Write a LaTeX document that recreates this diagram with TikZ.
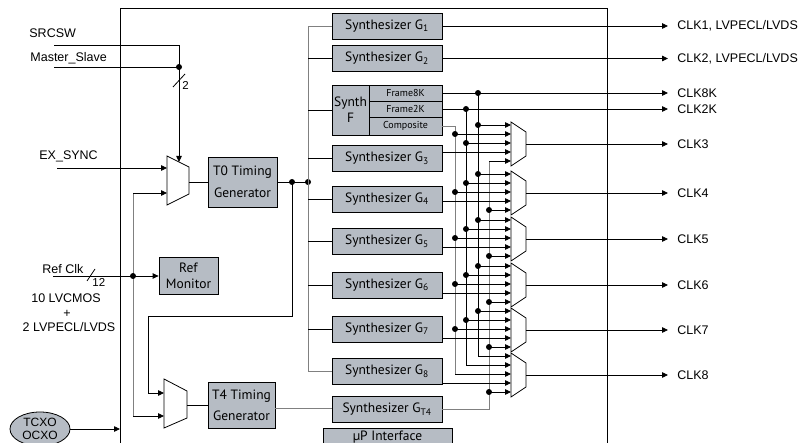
\documentclass[tikz,border=0pt]{standalone}
\usepackage{fontspec}
\setmainfont{Liberation Sans}
\newfontfamily\blockfont{PT Sans}
\usetikzlibrary{arrows.meta,shapes.geometric}
\definecolor{blockgray}{RGB}{182,188,196}

\begin{document}
\begin{tikzpicture}[x=1pt, y=-1pt, line width=0.8pt,
  block/.style={draw, fill=blockgray, inner sep=0pt, minimum width=110pt, minimum height=26pt, font=\blockfont\fontsize{13.5}{16}\selectfont},
  small/.style={draw, fill=blockgray, inner sep=0pt, minimum width=73pt, minimum height=16pt, font=\blockfont\fontsize{10}{12}\selectfont},
  lbl/.style={inner sep=0pt, font=\fontsize{12.5}{13}\selectfont},
  greyline/.style={draw=gray},
  tip/.style={-{Triangle[length=6pt,width=5.5pt]}}]
\useasboundingbox (0,0) rectangle (810,443);
\draw (120,443) -- (120,8) -- (607,8) -- (607,443);

\node[block] (g1) at (387,26) {Synthesizer G\textsubscript{1}};
\node[block] (g2) at (387,58.5) {Synthesizer G\textsubscript{2}};
\node[block, minimum width=37pt, minimum height=50pt, align=center] (sf) at (350.5,110) {Synth\\F};
\node[small] (f8k) at (405.5,93) {Frame8K};
\node[small] (f2k) at (405.5,109) {Frame2K};
\node[small, minimum height=18pt] (comp) at (405.5,126) {Composite};
\foreach \n/\y in {3/158.5,4/199,5/241.5,6/285,7/329,8/371.5}
  \node[block] (g\n) at (387,\y) {Synthesizer G\textsubscript{\n}};
\node[block] (gt4) at (387,409.5) {Synthesizer G\textsubscript{T4}};
\node[block, minimum width=129pt, minimum height=18pt] (up) at (387.5,437) {µP Interface};

\node[block, minimum width=69pt, minimum height=50pt, align=center, font=\blockfont\fontsize{13.5}{22}\selectfont] (t0) at (242.5,182) {T0 Timing\\Generator};
\node[block, minimum width=67pt, minimum height=46pt, align=center, font=\blockfont\fontsize{13.5}{21}\selectfont] (t4) at (241.5,405) {T4 Timing\\Generator};
\node[block, minimum width=59pt, minimum height=37pt, align=center] (refmon) at (188.5,276) {Ref\\Monitor};
\node[draw, fill=blockgray, ellipse, inner sep=0pt, minimum width=60pt, minimum height=34pt, align=center, font=\fontsize{12}{12.5}\selectfont] (osc) at (40,429) {TCXO\\OCXO};

\node[lbl, anchor=base west] (srcsw) at (29,38) {SRCSW};
\node[lbl, anchor=base west] (ms) at (30,62) {Master\_Slave};
\node[lbl, anchor=base west] (exsync) at (39,160) {EX\_SYNC};
\node[lbl, anchor=base west] (refclk) at (42,273) {Ref Clk};
\node[lbl, anchor=base west, font=\fontsize{11.5}{12}\selectfont] (w12) at (92,287) {12};
\node[lbl, anchor=base west, font=\fontsize{11.5}{12}\selectfont] (w2) at (182,90) {2};
\node[lbl, anchor=base] (lvcmos) at (66,302) {10 LVCMOS};
\node[lbl, anchor=base] (plus) at (67,317) {+};
\node[lbl, anchor=base] (lvds) at (69,331) {2 LVPECL/LVDS};

\draw (167,156) -- (189,167) -- (189,194) -- (167,205) -- cycle;
\coordinate (s0a) at (167,168);
\coordinate (s0b) at (167,193);
\coordinate (s0s) at (179,162);
\coordinate (s0o) at (189,182);
\draw (164,379) -- (187,391) -- (187,418) -- (164,428) -- cycle;
\coordinate (s4a) at (164,393);
\coordinate (s4b) at (164,416);
\coordinate (s4o) at (187,405);

\coordinate (srcswin) at (54,45);
\coordinate (msin) at (54,67);
\coordinate (exin) at (57,168);
\coordinate (refin) at (53,276);
\coordinate (rail) at (133,0);
\coordinate (busx) at (308,0);
\coordinate (edge) at (120,0);

\draw[tip] (srcswin) -| (s0s);
\draw (msin) -- (msin -| s0s);
\fill (msin -| s0s) circle (3pt);
\draw (173,87) -- (185,74);
\draw[tip] (exin) -- (s0a);
\draw[greyline] (s0b -| rail) -- (s4b -| rail);
\draw[tip] (s0b -| rail) -- (s0b);
\draw[tip] (s4b -| rail) -- (s4b);
\draw[tip] (refin) -- (refmon.west);
\fill (refin -| rail) circle (3pt);
\draw (87,281) -- (95,269);
\draw[tip] (osc.east) -- (osc.east -| edge);

\draw (s0o) -- (t0.west);
\draw (s4o) -- (t4.west);
\draw (t0.east) -- (t0.east -| busx);
\fill (292,182) circle (3pt);
\fill (t0.east -| busx) circle (3pt);
\draw[tip] (292,182) |- (148,316) |- (s4a);
\draw[greyline] (t4.east |- 0,408) -- (gt4.west |- 0,408);

\draw[greyline] (g1.west) -| (g8.west -| busx) -- (g8.west);
\foreach \b in {g2,sf,g3,g4,g5,g6,g7}
  \draw (\b.west -| busx) -- (\b.west);

\foreach \t [count=\k from 3] in {122,171,217,263,308,353} {
  \draw (511,\t) -- (526,\t+10) -- (526,\t+34) -- (511,\t+44) -- cycle;
  \foreach \j in {1,...,5}
    \coordinate (m\k-\j) at (511,\t+9*\j-6);
  \coordinate (m\k-o) at (526,\t+22);
}

\coordinate (lx) at (677,0);
\coordinate (v8) at (478,0);
\coordinate (v2) at (466,0);
\coordinate (vc) at (455,0);
\coordinate (vt) at (489,0);

\node[lbl, anchor=west] (clk1) at (g1.east -| lx) {CLK1, LVPECL/LVDS};
\node[lbl, anchor=west] (clk2) at (g2.east -| lx) {CLK2, LVPECL/LVDS};
\node[lbl, anchor=west] (clk8k) at (f8k.east -| lx) {CLK8K};
\node[lbl, anchor=west] (clk2k) at (f2k.east -| lx) {CLK2K};
\draw[tip, shorten >=9pt] (g1.east) -- (clk1.west);
\draw[tip, shorten >=9pt] (g2.east) -- (clk2.west);
\draw[tip, shorten >=9pt] (f8k.east) -- (clk8k.west);
\draw[tip, shorten >=9pt] (f2k.east) -- (clk2k.west);
\foreach \k in {3,...,8} {
  \node[lbl, anchor=west] (clk\k) at (m\k-o -| lx) {CLK\k};
  \draw[tip, shorten >=9pt] (m\k-o) -- (clk\k.west);
}

\draw (f8k.east -| v8) -- (m8-1 -| v8);
\draw (f2k.east -| v2) -- (m8-2 -| v2);
\draw[greyline] (comp.east) -| (m8-3 -| vc);
\draw[greyline] (gt4.east) -| (m3-5 -| vt);
\fill (f8k.east -| v8) circle (3pt);
\fill (f2k.east -| v2) circle (3pt);

\foreach \k/\a/\b in {3/vc/v2,4/v2/vc,5/v2/vc,6/v2/vc,7/v2/vc,8/v2/vc} {
  \draw[tip] (m\k-1 -| v8) -- (m\k-1);
  \draw[tip] (m\k-2 -| \a) -- (m\k-2);
  \draw[tip] (m\k-3 -| \b) -- (m\k-3);
  \draw[tip] (g\k.east |- m\k-4) -- (m\k-4);
  \draw[tip] (m\k-5 -| vt) -- (m\k-5);
}
\foreach \k/\a/\b in {3/vc/v2,4/v2/vc,5/v2/vc,6/v2/vc,7/v2/vc} {
  \fill (m\k-1 -| v8) circle (3pt);
  \fill (m\k-2 -| \a) circle (3pt);
  \fill (m\k-3 -| \b) circle (3pt);
}
\foreach \k in {4,...,8}
  \fill (m\k-5 -| vt) circle (3pt);
\end{tikzpicture}
\end{document}
